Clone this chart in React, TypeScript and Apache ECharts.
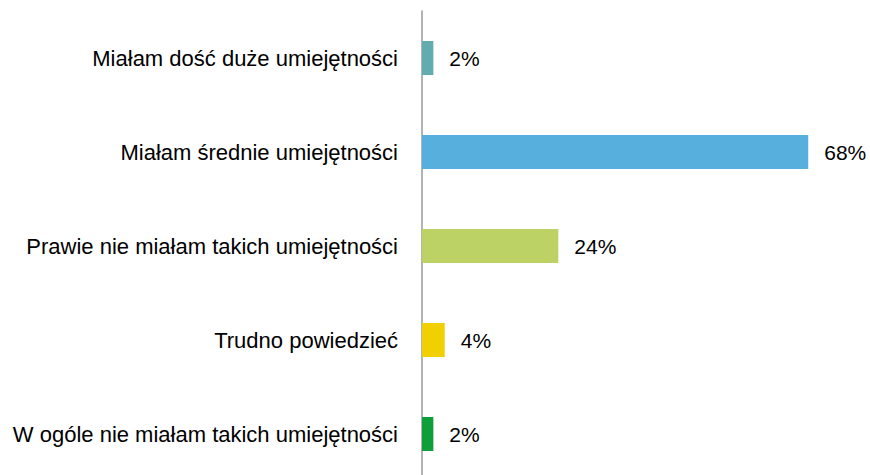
import React, { useEffect, useRef } from "react";
import * as echarts from "echarts";

const categories = [
  "Miałam dość duże umiejętności",
  "Miałam średnie umiejętności",
  "Prawie nie miałam takich umiejętności",
  "Trudno powiedzieć",
  "W ogóle nie miałam takich umiejętności",
];
const values = [2, 68, 24, 4, 2];
const colors = ["#62ABAF", "#56AFDC", "#BCD264", "#F0D000", "#0E9F3A"];

export default function App() {
  const ref = useRef<HTMLDivElement>(null);
  useEffect(() => {
    if (!ref.current) return;
    const chart = echarts.init(ref.current, undefined, { renderer: "svg" });
    chart.setOption({
      animation: false,
      grid: { left: 422, top: 11, height: 470, width: 426, containLabel: false },
      xAxis: {
        type: "value",
        min: 0,
        max: 75,
        show: false,
      },
      yAxis: {
        type: "category",
        inverse: true,
        data: categories,
        axisLine: { show: true, lineStyle: { color: "#9a9a9a", width: 1.5 } },
        axisTick: { show: false },
        axisLabel: {
          margin: 24,
          color: "#000",
          fontFamily: "Liberation Sans, Arial, sans-serif",
          fontSize: 22,
        },
      },
      series: [
        {
          type: "bar",
          data: values.map((v, i) => ({ value: v, itemStyle: { color: colors[i] } })),
          barWidth: 34,
          label: {
            show: true,
            position: "right",
            distance: 16,
            formatter: "{c}%",
            color: "#000",
            fontFamily: "Liberation Sans, Arial, sans-serif",
            fontSize: 21,
          },
        },
      ],
    });
    return () => chart.dispose();
  }, []);
  return (
    <div
      ref={ref}
      style={{ position: "absolute", left: 0, top: 0, width: 870, height: 482 }}
    />
  );
}
